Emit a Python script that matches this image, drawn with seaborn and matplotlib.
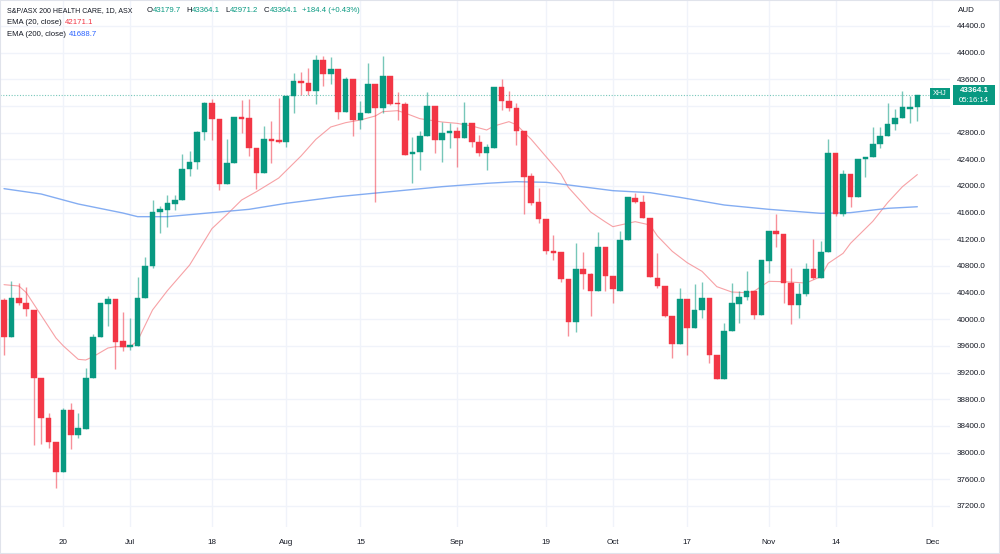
import numpy as np
import pandas as pd
import matplotlib
matplotlib.use("Agg")
import matplotlib.pyplot as plt
from matplotlib.patches import Rectangle
import seaborn as sns

# ---- data ---------------------------------------------------------------
# daily candles 7 Jun - 29 Nov 2022, ASX closed 13 Jun and 22 Sep
start, end, axis_end = "2022-06-07", "2022-11-29", "2022-12-01"
holidays = ["2022-06-13", "2022-09-22"]

open_ = [40290, 39730, 40315, 40240, 40140, 39115, 38515, 38155, 37715, 38640,
         38265, 38355, 39115, 39730, 40230, 40300, 39675, 39590, 39605, 40325,
         40805, 41615, 41640, 41730, 41790, 42255, 42355, 42805, 43240, 43005,
         42025, 42350, 43040, 43015, 42575, 42190, 42705, 42690, 42665, 43355,
         43575, 43540, 43430, 43890, 43675, 43755, 43105, 43605, 42990, 43100,
         43530, 43165, 43650, 43240, 43230, 42475, 42515, 42750, 43200, 42690,
         42790, 42825, 42725, 42950, 42665, 42500, 42565, 43490, 43275, 43165,
         42830, 42150, 41765, 41505, 41030, 41005, 40605, 39955, 40755, 40675,
         40430, 41090, 40650, 40425, 41190, 41815, 41765, 41515, 40625, 40500,
         40050, 39630, 40305, 39875, 40140, 40325, 39465, 39100, 39830, 40230,
         40340, 40425, 40065, 40875, 41325, 41275, 40540, 40215, 40375, 40755,
         40625, 41005, 42500, 41575, 42175, 41840, 42400, 42430, 42625, 42755,
         42925, 43015, 43160, 43179.7]
high = [40320, 40575, 40540, 40490, 40140, 39115, 38600, 38155, 38665, 38750,
        38600, 39265, 39775, 40240, 40350, 40300, 40105, 40015, 40640, 40940,
        41790, 41700, 41865, 41865, 42475, 42530, 42830, 43265, 43300, 43005,
        42705, 43040, 43290, 43300, 42575, 42905, 42975, 43315, 43355, 43690,
        43705, 43765, 43965, 43955, 43940, 43755, 43630, 43605, 43280, 43850,
        43530, 43950, 43650, 43405, 43255, 42730, 42825, 43405, 43200, 42965,
        42940, 42890, 43255, 42950, 42765, 42630, 43490, 43605, 43430, 43240,
        42830, 42190, 41965, 41505, 41265, 41005, 40605, 41140, 41015, 40690,
        41315, 41090, 40650, 41330, 41830, 41890, 41865, 41515, 41000, 40500,
        40050, 40465, 40305, 40525, 40565, 40325, 39465, 39940, 40540, 40430,
        40725, 40425, 40890, 41325, 41580, 41275, 40765, 40550, 40840, 41200,
        41175, 42700, 42500, 42240, 42175, 42400, 42430, 42880, 42890, 43250,
        43155, 43430, 43355, 43364.1]
low = [39465, 39730, 40215, 40050, 38115, 38130, 38065, 37465, 37715, 38050,
       38215, 38355, 39115, 39730, 39900, 39255, 39530, 39540, 39605, 40325,
       40765, 41290, 41390, 41640, 41790, 42150, 42250, 42690, 42690, 41940,
       42025, 42350, 42790, 42450, 41950, 42190, 42350, 42640, 42580, 43100,
       43365, 43365, 43225, 43505, 43525, 43000, 43105, 42755, 42855, 43100,
       41765, 43100, 43210, 42990, 42465, 42040, 42240, 42750, 42500, 42365,
       42565, 42290, 42725, 42580, 42455, 42240, 42565, 43140, 43130, 42615,
       41580, 41715, 41440, 40980, 40890, 40565, 39755, 39805, 40450, 40050,
       40430, 40430, 40250, 40425, 41190, 41750, 41515, 40630, 40465, 40030,
       39415, 39630, 39465, 39875, 40015, 39350, 39100, 39100, 39830, 39940,
       40290, 40000, 40065, 40700, 41090, 40250, 39930, 40015, 40350, 40600,
       40625, 41005, 41550, 41555, 41690, 41840, 42140, 42430, 42565, 42755,
       42840, 43015, 42940, 42971.2]
close = [39740, 40315, 40240, 40150, 39115, 38515, 38155, 37715, 38640, 38265,
         38365, 39125, 39740, 40240, 40300, 39665, 39580, 39615, 40325, 40805,
         41615, 41650, 41740, 41790, 42255, 42355, 42805, 43240, 43005, 42025,
         42350, 43040, 43005, 42575, 42190, 42705, 42680, 42665, 43355, 43575,
         43540, 43430, 43890, 43675, 43755, 43105, 43605, 42990, 43100, 43530,
         43165, 43650, 43230, 43225, 42465, 42515, 42750, 43200, 42690, 42790,
         42825, 42725, 42950, 42665, 42500, 42580, 43490, 43275, 43165, 42830,
         42140, 41750, 41505, 41030, 41000, 40605, 39955, 40755, 40675, 40430,
         41090, 40650, 40450, 41190, 41830, 41765, 41515, 40630, 40500, 40050,
         39630, 40305, 39875, 40140, 40325, 39465, 39100, 39830, 40240, 40340,
         40425, 40065, 40890, 41325, 41275, 40540, 40215, 40375, 40755, 40625,
         41005, 42500, 41575, 42180, 41840, 42400, 42430, 42630, 42755, 42925,
         43015, 43190, 43179.7, 43364.1]

# indicator lines, sampled at candle numbers
ema20_at = [0, 2, 3, 5, 7, 8, 10, 11, 12, 14, 15, 17, 18, 20, 22, 25, 28, 30,
            32, 34, 37, 40, 42, 44, 46, 48, 50, 51, 53, 54, 56, 59, 61, 63, 65,
            66, 68, 69, 71, 73, 75, 76, 79, 81, 82, 83, 85, 87, 88, 90, 92, 94,
            96, 98, 100, 101, 103, 105, 108, 110, 111, 113, 114, 117, 119, 121, 123]
ema20 = [40520, 40500, 40400, 40060, 39720, 39600, 39400, 39390, 39440, 39570,
         39590, 39590, 39680, 40140, 40430, 40815, 41360, 41570, 41790, 41915,
         42120, 42450, 42700, 42885, 42950, 42990, 43050, 43115, 43130, 43095,
         43010, 42960, 42940, 42900, 42840, 42900, 42965, 42920, 42700, 42440,
         42180, 41980, 41610, 41460, 41390, 41415, 41465, 41415, 41250, 41020,
         40850, 40720, 40490, 40410, 40400, 40420, 40570, 40565, 40545, 40640,
         40840, 40990, 41140, 41470, 41750, 41990, 42171.1]
ema200_at = [0, 5, 10, 16, 18, 22, 27, 33, 38, 45, 52, 59, 65, 69, 73, 75, 82,
             87, 91, 97, 103, 110, 114, 119, 123]
ema200 = [41960, 41880, 41730, 41595, 41540, 41540, 41590, 41650, 41740, 41840,
          41915, 41990, 42040, 42065, 42055, 42030, 41930, 41900, 41830, 41715,
          41650, 41590, 41600, 41665, 41688.7]

tick_dates = ["2022-06-20", "2022-07-01", "2022-07-18", "2022-08-01", "2022-08-15",
              "2022-09-01", "2022-09-19", "2022-10-03", "2022-10-17", "2022-11-01",
              "2022-11-14", "2022-12-01"]
tick_labels = ["20", "Jul", "18", "Aug", "15", "Sep", "19", "Oct", "17", "Nov", "14", "Dec"]
price_ticks = list(range(37200, 44401, 400))

GREEN, RED, BLUE, DARK = "#089981", "#f23645", "#2962ff", "#131722"

# ---- frame ----------------------------------------------------------------
axis_days = pd.bdate_range(start, axis_end)
axis_days = axis_days[~axis_days.isin(pd.to_datetime(holidays))]
days = axis_days[axis_days <= end]
df = pd.DataFrame({"date": days, "open": open_, "high": high, "low": low, "close": close})
df["n"] = np.arange(len(df))
df["up"] = df["close"] >= df["open"]

sns.set_theme(style="white")
plt.rcParams["font.family"] = ["Liberation Sans", "DejaVu Sans"]

W, H = 1000, 554
fig = plt.figure(figsize=(W / 100, H / 100), dpi=100)
ax = fig.add_axes([0, 27 / H, 950 / W, 527 / H])

for s in ax.spines.values():
    s.set_visible(False)
ax.grid(True, color="#f0f3fa", lw=1)
ax.set_axisbelow(True)

# candles
colors = np.where(df["up"], GREEN, RED)
ax.vlines(df["n"], df["low"], df["high"], colors=colors, lw=1, alpha=0.55, zorder=2)
bottom = np.minimum(df["open"], df["close"])
height = np.maximum((df["close"] - df["open"]).abs(), 18)
ax.bar(df["n"], height, bottom=bottom, width=0.76, color=colors,
       edgecolor=colors, lw=0.3, zorder=3)

# moving averages
sns.lineplot(x=ema20_at, y=ema20, ax=ax, color="#f58a8f", lw=0.8, alpha=0.8, zorder=1)
sns.lineplot(x=ema200_at, y=ema200, ax=ax, color="#6f9ff0", lw=1.0, alpha=0.85, zorder=1)

# last price line
ax.axhline(close[-1], color=GREEN, lw=0.8, ls=(0, (1, 1.5)), alpha=0.55, zorder=1)

ax.set_xlim(-0.54, 127.4)
ax.set_ylim(36885, 44790)

tick_pos = axis_days.get_indexer(pd.to_datetime(tick_dates))
ax.set_xticks(tick_pos)
ax.set_xticklabels(tick_labels)
ax.yaxis.tick_right()
ax.set_yticks(price_ticks)
ax.set_yticklabels(["" if p == 43200 else f"{p:.1f}" for p in price_ticks])
ax.tick_params(axis="x", length=0, pad=9, labelsize=5.8, colors=DARK)
ax.tick_params(axis="y", length=0, pad=5, labelsize=5.8, colors=DARK)
ax.set_xlabel("")
ax.set_ylabel("")

# ---- labels on the price scale ---------------------------------------------
def fx(px):
    return px / W

def fy(py):
    return 1 - py / H

fig.text(fx(958), fy(10), "AUD", fontsize=5.8, color=DARK, va="center")
fig.patches.append(Rectangle((fx(953), fy(105)), fx(42), 20 / H, transform=fig.transFigure,
                             fc=GREEN, ec="none"))
fig.text(fx(974), fy(90.5), f"{close[-1]:.1f}", fontsize=5.8, color="white",
         ha="center", va="center", fontweight="bold")
fig.text(fx(974), fy(100), "05:16:14", fontsize=5.6, color="white", ha="center", va="center")
fig.patches.append(Rectangle((fx(930), fy(99)), fx(20), 11 / H, transform=fig.transFigure,
                             fc=GREEN, ec="none"))
fig.text(fx(940), fy(93.5), "XHJ", fontsize=5.2, color="white", ha="center", va="center")

# ---- legend text, top left -------------------------------------------------
renderer = fig.canvas.get_renderer()

def write_line(x, y, parts):
    for text, color, gap, size in parts:
        t = fig.text(fx(x), fy(y), text, fontsize=size, color=color, va="center")
        x = t.get_window_extent(renderer).x1 + gap

chg = close[-1] - close[-2]
write_line(7, 11, [
    ("S&P/ASX 200 HEALTH CARE, 1D, ASX", DARK, 14, 5.0),
    ("O", DARK, 0.5, 5.6), (f"{open_[-1]:.1f}", GREEN, 5, 5.6),
    ("H", DARK, 0.5, 5.6), (f"{high[-1]:.1f}", GREEN, 5, 5.6),
    ("L", DARK, 0.5, 5.6), (f"{low[-1]:.1f}", GREEN, 5, 5.6),
    ("C", DARK, 0.5, 5.6), (f"{close[-1]:.1f}", GREEN, 5, 5.6),
    (f"+{chg:.1f} (+{chg / close[-2] * 100:.2f}%)", GREEN, 0, 5.6),
])
write_line(7, 23, [("EMA (20, close)", DARK, 3, 5.6), (f"{ema20[-1]:.1f}", RED, 0, 5.6)])
write_line(7, 35, [("EMA (200, close)", DARK, 3, 5.6), (f"{ema200[-1]:.1f}", BLUE, 0, 5.6)])

fig.patches.append(Rectangle((0, 0), 1, 1, transform=fig.transFigure, fill=False,
                             ec="#e0e3eb", lw=1.5))

fig.savefig("out.png", dpi=100)
plt.close(fig)
